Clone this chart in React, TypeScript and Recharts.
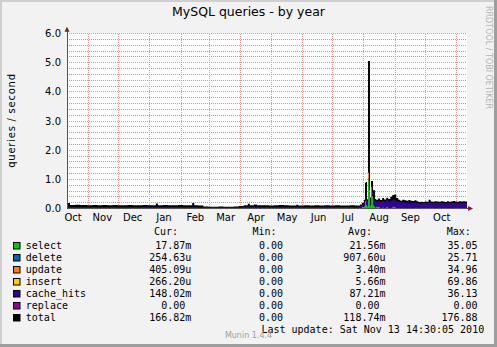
import React from 'react';
import { ComposedChart, Area, XAxis, YAxis, ReferenceLine, ReferenceArea, ReferenceDot } from 'recharts';

// x = day index, day 0 is about 11 Oct 2009 (plot is ~1px per day)
// quiet period: only select / cache_hits / total are visible, the rest read as 0
const quietDays = [
  0, 3, 8, 13, 20, 25, 30, 35, 40, 45, 50, 55, 60, 65, 70, 75, 80, 85, 88, 90,
  95, 100, 105, 110, 115, 120, 124, 126, 130, 135, 140, 145, 150, 155, 160, 165, 170, 175, 179, 181,
  185, 188, 195, 200, 205, 210, 215, 220, 227, 229, 235, 240, 245, 250, 255, 260, 265, 270, 275, 280,
  285, 288,
];
const quietTotal = [
  0.19, 0.12, 0.13, 0.12, 0.11, 0.12, 0.11, 0.12, 0.11, 0.12, 0.11, 0.11, 0.12, 0.11, 0.11, 0.12, 0.11, 0.11, 0.17, 0.11,
  0.12, 0.11, 0.11, 0.12, 0.11, 0.11, 0.19, 0.11, 0.10, 0.07, 0.06, 0.06, 0.07, 0.06, 0.06, 0.07, 0.09, 0.11, 0.16, 0.11,
  0.14, 0.11, 0.11, 0.10, 0.11, 0.12, 0.11, 0.10, 0.13, 0.10, 0.11, 0.10, 0.11, 0.10, 0.11, 0.10, 0.11, 0.10, 0.10, 0.11,
  0.10, 0.10,
];
const quietCacheHits = [
  0.05, 0.04, 0.04, 0.04, 0.04, 0.04, 0.04, 0.04, 0.04, 0.04, 0.04, 0.04, 0.04, 0.04, 0.04, 0.05, 0.04, 0.05, 0.05, 0.04,
  0.05, 0.04, 0.05, 0.04, 0.04, 0.04, 0.05, 0.04, 0.03, 0.03, 0.03, 0.03, 0.03, 0.03, 0.03, 0.03, 0.03, 0.04, 0.05, 0.04,
  0.05, 0.04, 0.04, 0.04, 0.04, 0.05, 0.04, 0.04, 0.05, 0.04, 0.04, 0.04, 0.04, 0.04, 0.05, 0.04, 0.04, 0.04, 0.04, 0.04,
  0.04, 0.04,
];
const quietSelect = [
  0.02, 0.01, 0.01, 0.01, 0.01, 0.01, 0.01, 0.01, 0.01, 0.01, 0.01, 0.01, 0.01, 0.01, 0.01, 0.01, 0.01, 0.01, 0.02, 0.01,
  0.01, 0.01, 0.01, 0.01, 0.01, 0.01, 0.02, 0.01, 0.01, 0.01, 0.01, 0.01, 0.01, 0.01, 0.01, 0.01, 0.01, 0.01, 0.02, 0.01,
  0.02, 0.01, 0.01, 0.01, 0.01, 0.01, 0.01, 0.01, 0.02, 0.01, 0.01, 0.01, 0.01, 0.01, 0.01, 0.01, 0.01, 0.01, 0.01, 0.01,
  0.01, 0.01,
];

// active period, from late July 2010
const activeDays = [
  290, 292, 294, 295, 296, 297, 298, 299, 300, 301, 302, 303, 304, 305, 306, 308, 310, 312, 314, 316,
  318, 320, 322, 324, 326, 328, 330, 332, 334, 336, 338, 340, 342, 344, 346, 348, 350, 352, 354, 356,
  358, 360, 362, 364, 366, 368, 370, 372, 374, 376, 378, 380, 382, 384, 386, 388, 390, 392, 394, 396,
];
const activeTotal = [
  0.14, 0.20, 0.30, 0.88, 0.91, 0.32, 5.06, 5.06, 0.38, 0.94, 0.94, 0.63, 0.63, 0.33, 0.30, 0.34, 0.29, 0.36, 0.31, 0.37,
  0.33, 0.40, 0.46, 0.48, 0.36, 0.30, 0.27, 0.30, 0.28, 0.27, 0.29, 0.27, 0.26, 0.28, 0.25, 0.22, 0.23, 0.22, 0.24, 0.23,
  0.30, 0.24, 0.23, 0.25, 0.24, 0.23, 0.25, 0.24, 0.22, 0.25, 0.23, 0.24, 0.26, 0.24, 0.23, 0.25, 0.24, 0.25, 0.24, 0.24,
];
const activeSelect = [
  0.03, 0.05, 0.08, 0.22, 0.12, 0.08, 1.00, 0.55, 0.10, 0.68, 0.40, 0.12, 0.08, 0.04, 0.06, 0.05, 0.03, 0.04, 0.02, 0.04,
  0.02, 0.03, 0.04, 0.03, 0.02, 0.02, 0.02, 0.02, 0.01, 0.02, 0.01, 0.02, 0.01, 0.02, 0.01, 0.01, 0.01, 0.02, 0.01, 0.01,
  0.02, 0.01, 0.01, 0.01, 0.02, 0.01, 0.01, 0.01, 0.01, 0.01, 0.02, 0.01, 0.01, 0.01, 0.01, 0.01, 0.02, 0.01, 0.01, 0.01,
];
const activeDelete = [
  0, 0, 0, 0.01, 0, 0, 0.02, 0.01, 0, 0, 0, 0, 0, 0, 0, 0, 0, 0, 0, 0,
  0, 0, 0, 0, 0, 0, 0, 0, 0, 0, 0, 0, 0, 0, 0, 0, 0, 0, 0, 0,
  0, 0, 0, 0, 0, 0, 0, 0, 0, 0, 0, 0, 0, 0, 0, 0, 0, 0, 0, 0,
];
const activeUpdate = [
  0, 0, 0, 0.02, 0.01, 0, 0.18, 0.05, 0, 0.02, 0.01, 0, 0, 0, 0, 0, 0, 0, 0, 0,
  0, 0, 0, 0, 0, 0, 0, 0, 0, 0, 0, 0, 0, 0, 0, 0, 0, 0, 0, 0,
  0, 0, 0, 0, 0, 0, 0, 0, 0, 0, 0, 0, 0, 0, 0, 0, 0, 0, 0, 0,
];
const activeInsert = [
  0, 0, 0, 0.01, 0, 0, 0.03, 0.02, 0, 0.03, 0.02, 0.01, 0, 0, 0.01, 0, 0, 0, 0, 0.02,
  0, 0, 0.03, 0.01, 0, 0, 0, 0, 0, 0, 0, 0, 0, 0, 0, 0, 0, 0, 0, 0,
  0, 0, 0, 0, 0, 0, 0, 0, 0, 0, 0, 0, 0, 0, 0, 0, 0, 0, 0, 0,
];
const activeCacheHits = [
  0.06, 0.08, 0.10, 0.12, 0.15, 0.14, 0.05, 0.12, 0.16, 0.10, 0.15, 0.20, 0.20, 0.20, 0.18, 0.20, 0.19, 0.22, 0.21, 0.22,
  0.22, 0.23, 0.24, 0.24, 0.22, 0.21, 0.19, 0.20, 0.20, 0.19, 0.20, 0.19, 0.19, 0.20, 0.18, 0.17, 0.18, 0.17, 0.18, 0.18,
  0.20, 0.18, 0.18, 0.19, 0.18, 0.18, 0.19, 0.18, 0.17, 0.19, 0.18, 0.18, 0.19, 0.18, 0.18, 0.19, 0.18, 0.19, 0.18, 0.18,
];

const monthStartDays = [21, 51, 82, 113, 141, 172, 202, 233, 263, 294, 325, 355, 386];
const monthLabelDays = [6, 35, 65, 96, 127, 157, 187, 218, 249, 278, 309, 340, 371];
const monthLabels = ['Oct', 'Nov', 'Dec', 'Jan', 'Feb', 'Mar', 'Apr', 'May', 'Jun', 'Jul', 'Aug', 'Sep', 'Oct'];
const yTicks = [0, 1, 2, 3, 4, 5, 6];
const yMinorTicks = [
  0.2, 0.4, 0.6, 0.8, 1.2, 1.4, 1.6, 1.8, 2.2, 2.4, 2.6, 2.8,
  3.2, 3.4, 3.6, 3.8, 4.2, 4.4, 4.6, 4.8, 5.2, 5.4, 5.6, 5.8,
];

const seriesKeys = ['select', 'delete', 'update', 'insert', 'cache_hits', 'replace'];
const seriesColors = ['#00cc00', '#0066b3', '#ff8000', '#ffcc00', '#330099', '#990099'];

const legendNames = ['select', 'delete', 'update', 'insert', 'cache_hits', 'replace', 'total'];
const legendColors = ['#00cc00', '#0066b3', '#ff8000', '#ffcc00', '#330099', '#990099', '#000000'];
const curValues = ['17.87m', '254.63u', '405.09u', '266.20u', '148.02m', '0.00', '166.82m'];
const minValues = ['0.00', '0.00', '0.00', '0.00', '0.00', '0.00', '0.00'];
const avgValues = ['21.56m', '907.60u', '3.40m', '5.66m', '87.21m', '0.00', '118.74m'];
const maxValues = ['35.05', '25.71', '34.96', '69.86', '36.13', '0.00', '176.88'];

const rows = [
  ...quietDays.map((day, i) => ({
    day, select: quietSelect[i], delete: 0, update: 0, insert: 0,
    cache_hits: quietCacheHits[i], replace: 0, total: quietTotal[i],
  })),
  ...activeDays.map((day, i) => ({
    day, select: activeSelect[i], delete: activeDelete[i], update: activeUpdate[i], insert: activeInsert[i],
    cache_hits: activeCacheHits[i], replace: 0, total: activeTotal[i],
  })),
];

const W = 497;
const H = 347;
const MONO = "'DejaVu Sans Mono', monospace";
const SANS = "'DejaVu Sans', sans-serif";
const CHAR = 6.02;

const UpArrow = (p: any) => (
  <polygon points={`${p.cx - 2.5},${p.cy + 2.5} ${p.cx},${p.cy - 2.5} ${p.cx + 2.5},${p.cy + 2.5}`} fill="#801f1f" />
);
const RightArrow = (p: any) => (
  <polygon points={`${p.cx - 2.5},${p.cy - 2.5} ${p.cx + 2.5},${p.cy} ${p.cx - 2.5},${p.cy + 2.5}`} fill="#801f1f" />
);

// values without unit suffix leave a blank cell where the unit would be
const padEnd = (s: string) => (/\d$/.test(s) ? CHAR : 0);

export default function App() {
  const tickStyle = { fill: '#000', fontSize: 10, fontFamily: SANS };
  return (
    <div style={{ position: 'absolute', left: 0, top: 0, width: W, height: H, background: '#f2f2f2' }}>
      <ComposedChart width={W} height={H} data={rows} margin={{ top: 33.5, right: 30, bottom: 118.5, left: 27 }}>
        <XAxis
          dataKey="day"
          type="number"
          domain={[0, 396]}
          allowDataOverflow
          ticks={monthLabelDays}
          interval={0}
          tickFormatter={(_v: number, i: number) => monthLabels[i]}
          axisLine={false}
          tickLine={false}
          tickSize={5}
          tickMargin={0}
          height={20}
          tick={tickStyle}
        />
        <YAxis
          type="number"
          domain={[0, 6]}
          allowDataOverflow
          ticks={yTicks}
          interval={0}
          tickFormatter={(v: number) => v.toFixed(1)}
          axisLine={false}
          tickLine={false}
          tickSize={6}
          tickMargin={0}
          width={40}
          tick={tickStyle}
        />
        <ReferenceArea x1={0} x2={396} y1={0} y2={6} fill="#ffffff" fillOpacity={1} stroke="none" zIndex={-100} />
        {yMinorTicks.map((v) => (
          <ReferenceLine key={'mi' + v} y={v} stroke="#a4a4a4" strokeDasharray="1 1" shapeRendering="crispEdges" zIndex={-50} />
        ))}
        {yTicks.slice(1).map((v) => (
          <ReferenceLine key={'ma' + v} y={v} stroke="#eb9595" strokeDasharray="1 1" shapeRendering="crispEdges" zIndex={-50} />
        ))}
        {monthStartDays.map((d) => (
          <ReferenceLine key={'m' + d} x={d} stroke="#eb9595" strokeDasharray="1 1" shapeRendering="crispEdges" zIndex={-50} />
        ))}
        <Area
          dataKey="total"
          type="stepAfter"
          fill="#000000"
          fillOpacity={1}
          stroke="none"
          isAnimationActive={false}
          dot={false}
          activeDot={false}
        />
        {seriesKeys.map((k, i) => (
          <Area
            key={k}
            dataKey={k}
            stackId="q"
            type="stepAfter"
            fill={seriesColors[i]}
            fillOpacity={1}
            stroke="none"
            isAnimationActive={false}
            dot={false}
            activeDot={false}
          />
        ))}
        <ReferenceLine
          segment={[{ x: 0, y: 0 }, { x: 399, y: 0 }]}
          ifOverflow="visible"
          stroke="#555"
          shapeRendering="crispEdges"
          zIndex={600}
        />
        <ReferenceLine
          segment={[{ x: 0, y: 0 }, { x: 0, y: 6.15 }]}
          ifOverflow="visible"
          stroke="#555"
          shapeRendering="crispEdges"
          zIndex={600}
        />
        <ReferenceDot x={0} y={6.15} ifOverflow="visible" shape={UpArrow} zIndex={600} />
        <ReferenceDot x={399.5} y={0} ifOverflow="visible" shape={RightArrow} zIndex={600} />
      </ComposedChart>

      <svg width={W} height={H} style={{ position: 'absolute', left: 0, top: 0, pointerEvents: 'none' }}>
        <rect x={0} y={0} width={W} height={2} fill="#cfcfcf" />
        <rect x={0} y={0} width={2} height={H} fill="#cfcfcf" />
        <rect x={W - 3} y={0} width={3} height={H} fill="#9e9e9e" />
        <rect x={0} y={H - 3} width={W} height={3} fill="#9e9e9e" />

        <text x={248.5} y={16.4} textAnchor="middle" fontFamily={SANS} fontSize={12.5} fill="#000">
          MySQL queries - by year
        </text>
        <text
          transform="translate(14.5,120.5) rotate(-90)"
          textAnchor="middle"
          fontFamily={SANS}
          fontSize={10}
          letterSpacing={0.75}
          fill="#000"
        >
          queries / second
        </text>
        <text transform="translate(485.5,6) rotate(90)" fontFamily={SANS} fontSize={8} fill="#b5b5b5">
          RRDTOOL / TOBI OETIKER
        </text>

        <g fontFamily={MONO} fontSize={10} fill="#000">
          <text x={154} y={235.3}>Cur:</text>
          <text x={252.4} y={235.3}>Min:</text>
          <text x={348} y={235.3}>Avg:</text>
          <text x={446.7} y={235.3}>Max:</text>
          {legendNames.map((name, i) => {
            const base = 249.3 + i * 12;
            return (
              <g key={name}>
                <rect x={13.5} y={base - 6.8} width={6.5} height={6.5} fill={legendColors[i]} stroke="#000" strokeWidth={1} />
                <text x={25.8} y={base}>{name}</text>
                <text x={191.3 - padEnd(curValues[i])} y={base} textAnchor="end">{curValues[i]}</text>
                <text x={283} y={base} textAnchor="end">{minValues[i]}</text>
                <text x={385.5 - padEnd(avgValues[i])} y={base} textAnchor="end">{avgValues[i]}</text>
                <text x={477.5} y={base} textAnchor="end">{maxValues[i]}</text>
              </g>
            );
          })}
          <text x={484.2} y={333} textAnchor="end">Last update: Sat Nov 13 14:30:05 2010</text>
        </g>
        <text x={248.5} y={338.4} textAnchor="middle" fontFamily={SANS} fontSize={8} fill="#a0a0a0">
          Munin 1.4.4
        </text>
      </svg>
    </div>
  );
}
